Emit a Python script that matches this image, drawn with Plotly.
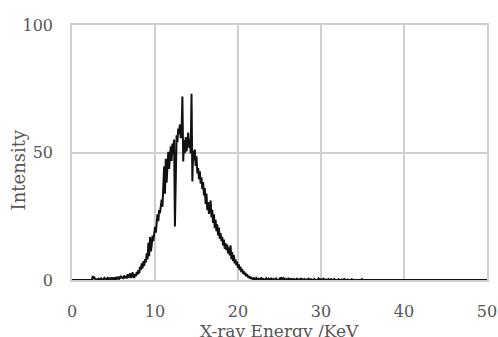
import plotly.graph_objects as go

# Intensity sampled every 0.1 keV from 0.0 to 50.0 keV
intensity = [
    0, 0, 0, 0, 0, 0, 0, 0, 0, 0,
    0, 0, 0, 0, 0, 0, 0, 0, 0, 0,
    0, 0, 0, 0, 0, 1.6, 0.4, 0.9, 0.2, 0,
    0.3, 0, 0.5, 0.2, 0, 0.6, 0.3, 0, 0.4, 0.8,
    0.2, 0.5, 0, 0.7, 0.3, 0.9, 0.2, 0.4, 1.0, 0.3,
    0.6, 0.2, 1.1, 0.4, 0.8, 0.3, 1.3, 0.5, 0.9, 1.6,
    0.7, 1.2, 0.4, 1.8, 0.9, 1.4, 0.6, 2.3, 1.0, 1.5,
    2.6, 0.8, 1.9, 3.0, 1.2, 0.9, 2.4, 1.4, 3.2, 2.1,
    3.8, 2.6, 5.1, 4.0, 6.5, 4.6, 7.4, 5.5, 8.2, 6.9,
    10.5, 8.1, 14.6, 9.3, 16.8, 11.2, 13.5, 17.4, 15.2, 19.0,
    20.8, 18.6, 22.4, 25.7, 23.1, 27.4, 26.2, 29.8, 31.5, 28.7,
    35.2, 44.6, 33.8, 47.5, 38.2, 45.9, 50.3, 43.6, 48.8, 52.4,
    46.7, 53.5, 49.2, 55.1, 21.0, 51.6, 56.8, 54.0, 59.4, 57.2,
    61.0, 55.6, 58.3, 72.0, 46.5, 54.8, 49.7, 56.1, 50.4, 53.2,
    57.8, 51.9, 55.4, 49.6, 73.0, 38.6, 50.8, 46.9, 51.2, 44.7,
    48.5, 41.8, 43.9, 39.5, 42.6, 37.8, 40.3, 35.6, 38.4, 33.2,
    36.1, 29.8, 33.9, 27.4, 30.6, 25.9, 28.7, 31.2, 24.6, 27.5,
    22.4, 25.8, 20.3, 23.6, 19.1, 21.8, 17.5, 20.6, 16.2, 18.4,
    15.3, 16.9, 13.6, 15.8, 12.2, 14.5, 11.7, 13.9, 10.4, 12.8,
    9.6, 13.6, 8.2, 10.9, 7.4, 9.8, 6.5, 8.1, 5.7, 7.2,
    4.8, 6.1, 3.9, 5.2, 3.1, 4.3, 2.5, 3.4, 1.9, 2.8,
    1.5, 2.3, 1.0, 1.7, 0.6, 1.3, 0.4, 0.9, 0.2, 0.7,
    0.3, 0, 0.8, 0.2, 0, 0.5, 0.1, 0, 0.9, 0.3,
    0, 0.4, 0.1, 0, 0.7, 0.2, 0, 0.5, 0, 0.3,
    0.8, 0.1, 0, 0.4, 0, 0.2, 0.6, 0, 0.1, 0,
    0.5, 0, 1.1, 0.3, 0, 0.7, 0.2, 0, 0.4, 0,
    0.2, 0.8, 0, 0.3, 0, 0.6, 0, 0.1, 0.4, 0,
    0, 0.5, 0.1, 0, 0.3, 0, 0.7, 0, 0.2, 0,
    0.4, 0, 0, 0.2, 0, 0.5, 0, 0, 0.3, 0,
    0, 0.1, 0.4, 0, 0, 0.2, 0, 0.6, 0, 0,
    0.3, 0, 0, 0.5, 0, 0, 0.2, 0, 0, 0.4,
    0, 0, 0.3, 0, 0, 0, 0.4, 0, 0, 0.1,
    0, 0.3, 0, 0, 0, 0.2, 0, 0, 0.4, 0,
    0, 0, 0.2, 0, 0, 0, 0, 0.3, 0, 0,
    0, 0, 0, 0, 0.2, 0, 0, 0, 0, 0.3,
    0, 0, 0, 0, 0, 0, 0, 0, 0, 0,
    0, 0, 0, 0, 0, 0, 0, 0, 0, 0,
    0, 0, 0, 0, 0, 0, 0, 0, 0, 0,
    0, 0, 0, 0, 0, 0, 0, 0, 0, 0,
    0, 0, 0, 0, 0, 0, 0, 0, 0, 0,
    0, 0, 0, 0, 0, 0, 0, 0, 0, 0,
    0, 0, 0, 0, 0, 0, 0, 0, 0, 0,
    0, 0, 0, 0, 0, 0, 0, 0, 0, 0,
    0, 0, 0, 0, 0, 0, 0, 0, 0, 0,
    0, 0, 0, 0, 0, 0, 0, 0, 0, 0,
    0, 0, 0, 0, 0, 0, 0, 0, 0, 0,
    0, 0, 0, 0, 0, 0, 0, 0, 0, 0,
    0, 0, 0, 0, 0, 0, 0, 0, 0, 0,
    0, 0, 0, 0, 0, 0, 0, 0, 0, 0,
    0, 0, 0, 0, 0, 0, 0, 0, 0, 0,
    0,
]
energy = [round(i * 0.1, 1) for i in range(len(intensity))]

x_ticks = [0, 10, 20, 30, 40, 50]
y_ticks = [0, 50, 100]
x_title = "X-ray Energy /KeV"
y_title = "Intensity"

FONT = "DejaVu Serif, Liberation Serif, serif"
GRID = "#cfcfcf"
TXT = "#555555"

fig = go.Figure()
fig.add_trace(go.Scatter(
    x=energy, y=intensity, mode="lines",
    line=dict(color="#111111", width=2),
    showlegend=False, hoverinfo="skip",
))

fig.update_layout(
    width=498, height=337,
    margin=dict(l=72, r=11, t=25, b=57, autoexpand=False),
    paper_bgcolor="white", plot_bgcolor="white",
    font=dict(family=FONT, size=16, color=TXT),
    xaxis=dict(
        range=[0, 50], tickvals=x_ticks, showgrid=True, gridcolor=GRID, gridwidth=1.5,
        showline=True, linecolor=GRID, linewidth=1.5, mirror=True, zeroline=False,
        ticks="outside", ticklen=16, tickcolor="rgba(0,0,0,0)", automargin=False,
        tickfont=dict(family=FONT, size=16, color=TXT),
    ),
    yaxis=dict(
        range=[0, 100], tickvals=y_ticks, showgrid=True, gridcolor=GRID, gridwidth=1.5,
        showline=True, linecolor=GRID, linewidth=1.5, mirror=True, zeroline=False,
        ticks="outside", ticklen=14, tickcolor="rgba(0,0,0,0)", automargin=False,
        tickfont=dict(family=FONT, size=16, color=TXT),
    ),
    annotations=[
        dict(text=x_title, xref="paper", yref="paper", x=0.5, y=-0.152,
             xanchor="center", yanchor="top", showarrow=False,
             font=dict(family=FONT, size=17, color=TXT)),
        dict(text=y_title, xref="paper", yref="paper", x=-0.13, y=0.43,
             xanchor="center", yanchor="middle", showarrow=False, textangle=-90,
             font=dict(family=FONT, size=18, color=TXT)),
    ],
)

fig.write_html("out.html")
